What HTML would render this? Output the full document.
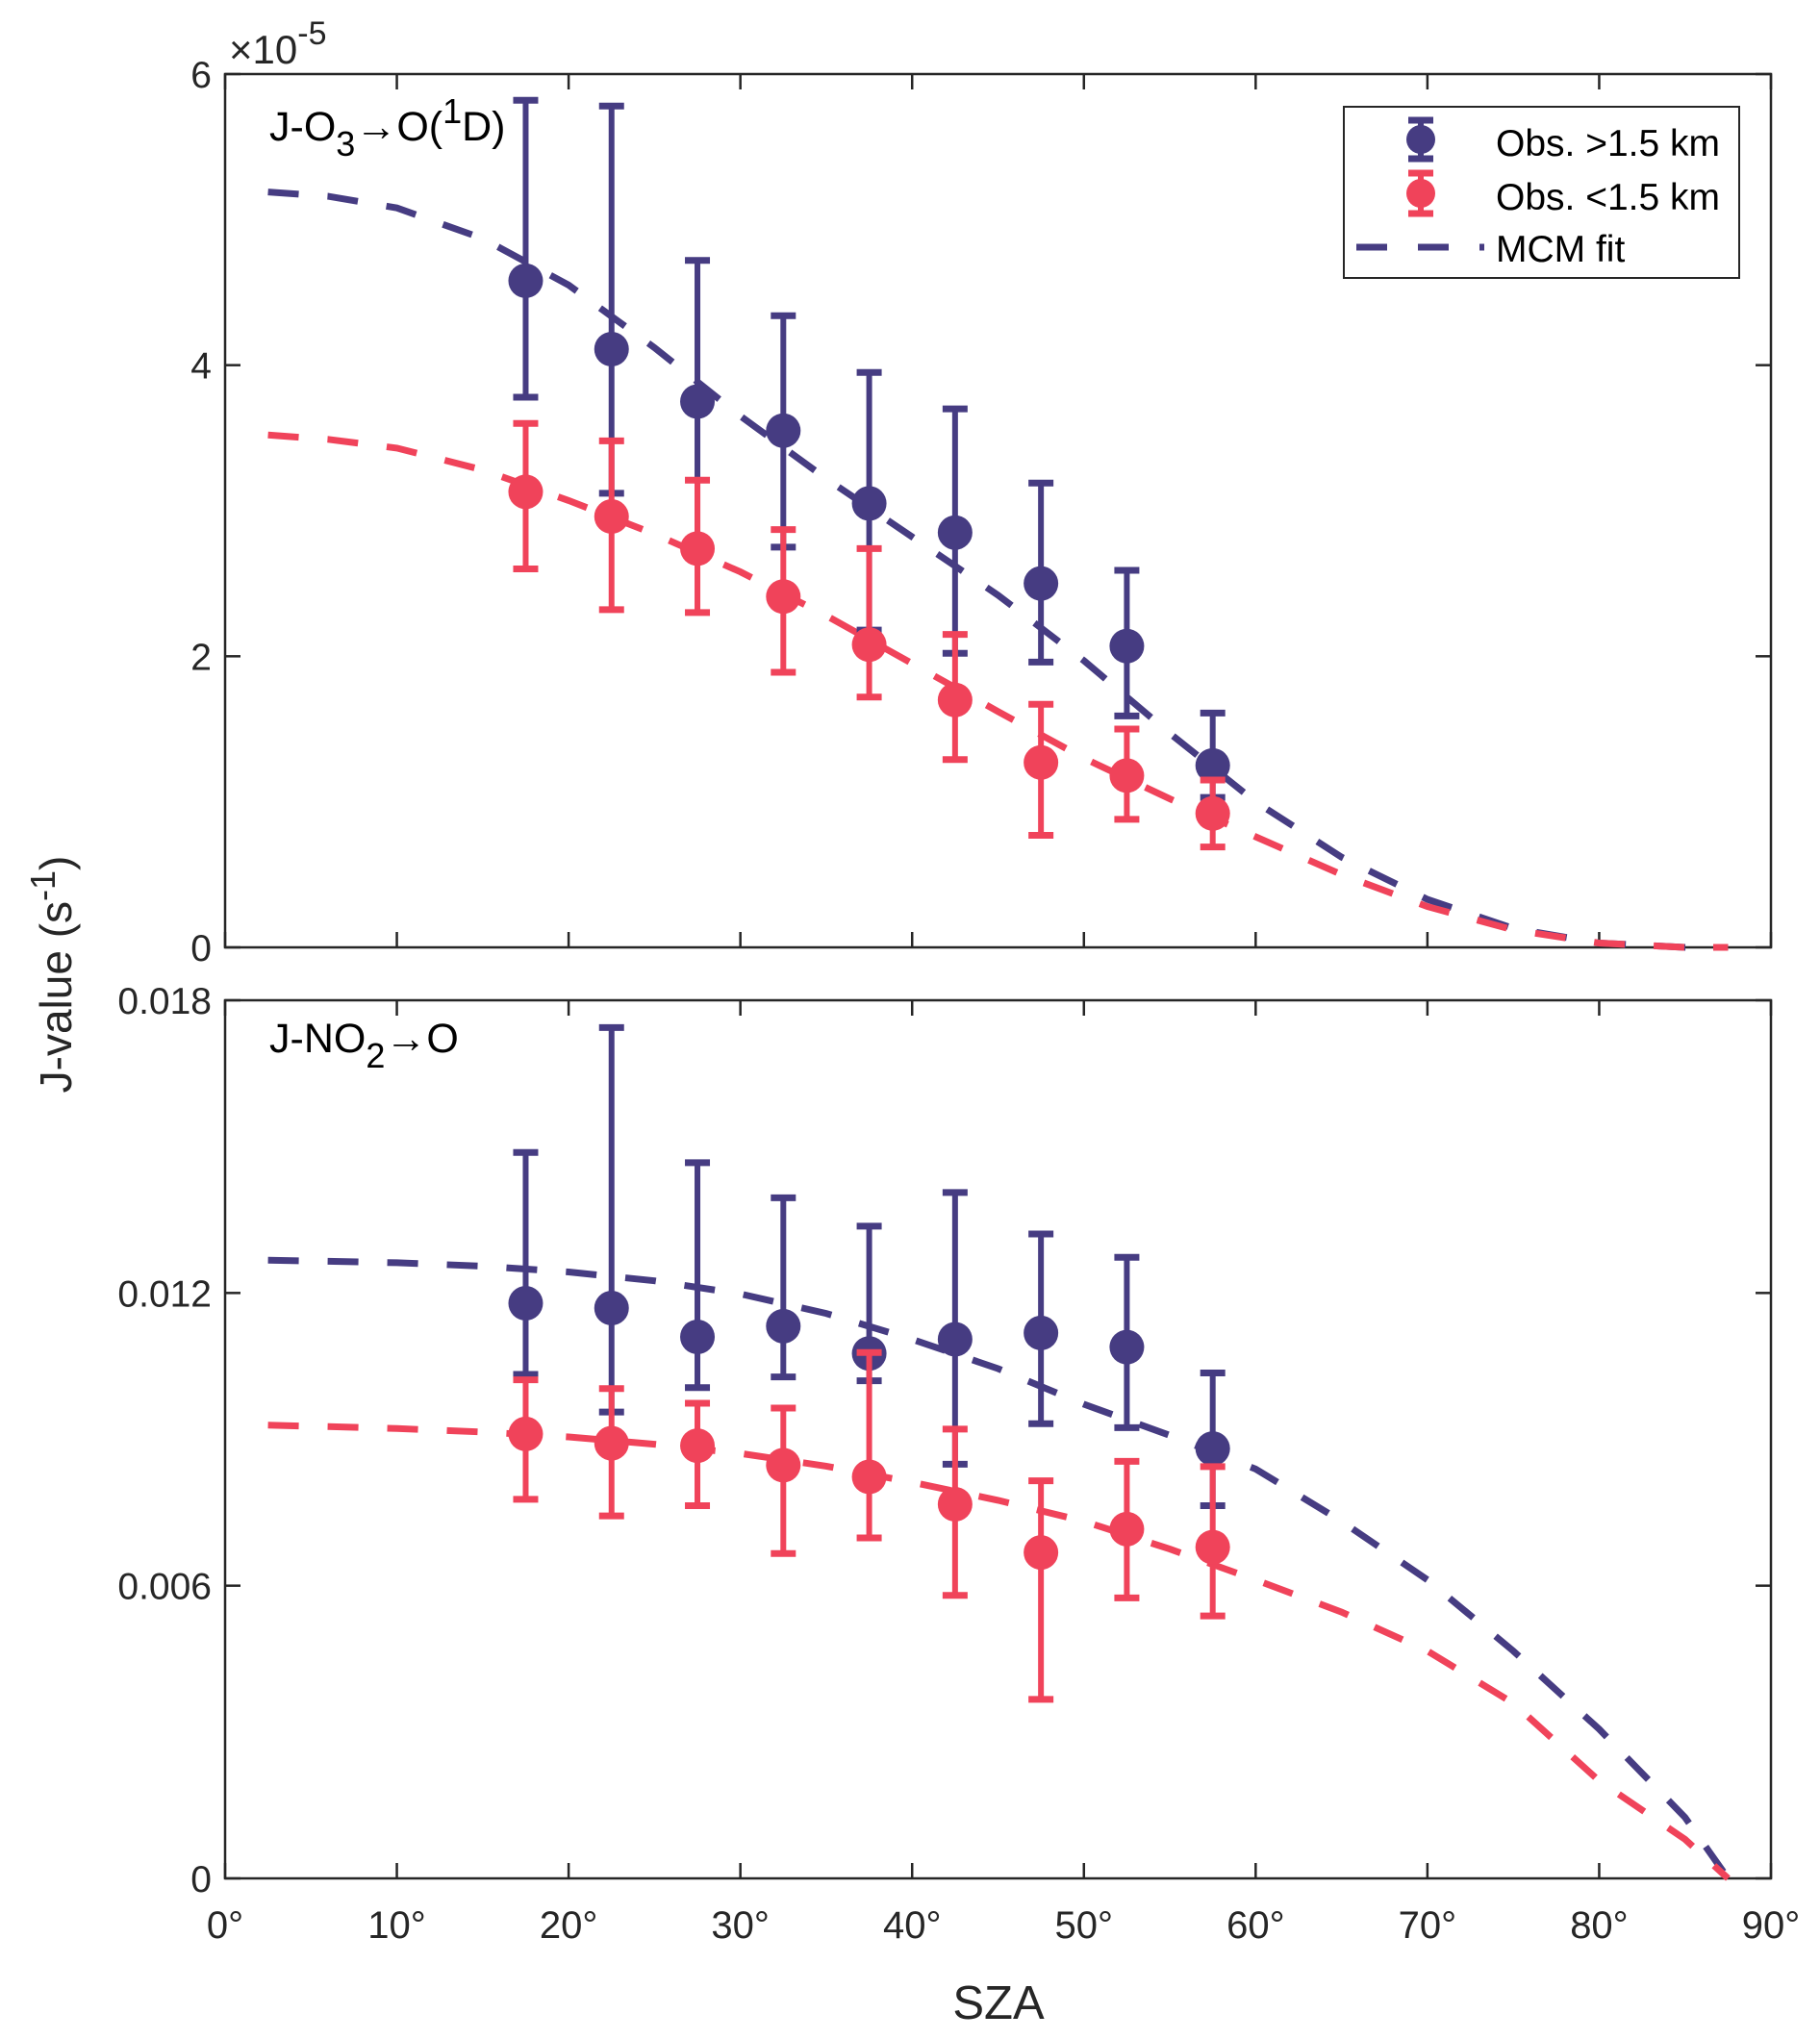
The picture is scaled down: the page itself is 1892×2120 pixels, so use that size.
<!DOCTYPE html>
<html><head><meta charset="utf-8"><style>
html,body{margin:0;padding:0;background:#fff;}
svg{display:block;font-family:"Liberation Sans",Arial,sans-serif;}
</style></head><body>
<svg id="chart" width="1892" height="2120" viewBox="0 0 1892 2120" xmlns="http://www.w3.org/2000/svg">
<g id="g-top"></g>
<g id="g-bot"></g>
<text x="238" y="66" font-size="42" fill="#262626">×10<tspan font-size="34" dy="-20">-5</tspan></text>
<text x="280" y="146" font-size="43" fill="#000">J-O<tspan font-size="36" dy="16">3</tspan><tspan dy="-16">→O(</tspan><tspan font-size="36" dy="-18">1</tspan><tspan dy="18">D)</tspan></text>
<text x="280" y="1094" font-size="43" fill="#000">J-NO<tspan font-size="36" dy="16">2</tspan><tspan dy="-16">→O</tspan></text>
<text transform="translate(74,1013) rotate(-90)" text-anchor="middle" font-size="46" fill="#262626">J-value (s<tspan font-size="36" dy="-17">-1</tspan><tspan dy="17">)</tspan></text>
<text x="1038" y="2099" text-anchor="middle" font-size="49" fill="#262626">SZA</text>
<g>
<rect x="1397" y="111" width="411" height="178" fill="#fff" stroke="#262626" stroke-width="2"/>
<g>
<line x1="1477" y1="125" x2="1477" y2="165" stroke="#463c82" stroke-width="6"/>
<line x1="1464" y1="125" x2="1490" y2="125" stroke="#463c82" stroke-width="7"/>
<line x1="1464" y1="165" x2="1490" y2="165" stroke="#463c82" stroke-width="7"/>
<circle cx="1477" cy="145" r="15" fill="#463c82"/>
<text x="1555" y="162" font-size="39" fill="#000">Obs. &gt;1.5 km</text></g>
<g>
<line x1="1477" y1="180" x2="1477" y2="222" stroke="#f0435a" stroke-width="6"/>
<line x1="1464" y1="180" x2="1490" y2="180" stroke="#f0435a" stroke-width="7"/>
<line x1="1464" y1="222" x2="1490" y2="222" stroke="#f0435a" stroke-width="7"/>
<circle cx="1477" cy="201" r="15" fill="#f0435a"/>
<text x="1555" y="218" font-size="39" fill="#000">Obs. &lt;1.5 km</text></g>
<g>
<line x1="1410" y1="257" x2="1543" y2="257" stroke="#463c82" stroke-width="7" stroke-dasharray="32 32"/>
<text x="1555" y="272" font-size="39" fill="#000">MCM fit</text></g>
</g>
</svg>
<script>
const sza = [17.5,22.5,27.5,32.5,37.5,42.5,47.5,52.5,57.5];
const o3High = [4.58,4.11,3.75,3.55,3.05,2.85,2.50,2.07,1.25];
const o3HighUp = [5.82,5.78,4.72,4.34,3.95,3.70,3.19,2.59,1.61];
const o3HighLo = [3.78,3.12,2.78,2.75,2.18,2.02,1.96,1.59,1.03];
const o3Low = [3.13,2.96,2.74,2.41,2.08,1.70,1.27,1.18,0.92];
const o3LowUp = [3.60,3.48,3.21,2.87,2.74,2.15,1.67,1.50,1.15];
const o3LowLo = [2.60,2.32,2.30,1.89,1.72,1.29,0.77,0.88,0.69];
const fitSza = [2.5,6,10,15,20,25,30,35,40,45,50,55,60,65,70,75,80,85,87.5];
const o3FitHigh = [5.19,5.16,5.08,4.87,4.55,4.12,3.65,3.22,2.82,2.42,1.97,1.47,1.0,0.62,0.33,0.13,0.03,0,0];
const o3FitLow = [3.52,3.49,3.43,3.28,3.07,2.84,2.58,2.28,1.95,1.62,1.30,1.02,0.76,0.50,0.28,0.12,0.03,0,0];
const no2High = [11.79,11.69,11.10,11.32,10.76,11.05,11.18,10.89,8.81];
const no2HighUp = [14.88,17.44,14.67,13.95,13.37,14.06,13.21,12.73,10.36];
const no2HighLo = [10.33,9.56,10.06,10.28,10.2,8.49,9.32,9.24,7.64];
const no2Low = [9.11,8.92,8.87,8.47,8.23,7.67,6.68,7.16,6.79];
const no2LowUp = [10.22,10.04,9.74,9.64,10.78,9.21,8.15,8.55,8.44];
const no2LowLo = [7.77,7.43,7.64,6.66,6.98,5.80,3.67,5.75,5.38];
const no2FitHigh = [12.67,12.65,12.62,12.55,12.43,12.25,11.98,11.58,11.05,10.45,9.72,9.08,8.39,7.32,6.12,4.66,3.06,1.25,0];
const no2FitLow = [9.29,9.26,9.22,9.15,9.05,8.90,8.71,8.45,8.12,7.75,7.32,6.75,6.12,5.46,4.66,3.59,2.0,0.8,0];
const xTicks = [0,10,20,30,40,50,60,70,80,90];
const o3Ticks = [0,2,4,6];
const o3TickLabels = ['0','2','4','6'];
const no2Ticks = [0,6,12,18];
const no2TickLabels = ['0','0.006','0.012','0.018'];

const NS='http://www.w3.org/2000/svg';
const L=234,R=1841;
const BLUE='#463c82',RED='#f0435a';
function xs(v){return L+(v/90)*(R-L);}
function mk(tag,parent,attrs){const e=document.createElementNS(NS,tag);for(const k in attrs)e.setAttribute(k,attrs[k]);parent.appendChild(e);return e;}

function panel(g,top,bot,ymax,yt,ytl,showX,fits,obs){
  const ys=v=>bot-(v/ymax)*(bot-top);
  const frame=mk('rect',g,{x:L,y:top,width:R-L,height:bot-top,fill:'none',stroke:'#262626','stroke-width':2.5});
  
  
  xTicks.forEach(t=>{
    const x=xs(t);
    const a=mk('line',g,{x1:x,y1:bot,x2:x,y2:bot-16,stroke:'#262626','stroke-width':2.5});
    
    
    mk('line',g,{x1:x,y1:top,x2:x,y2:top+16,stroke:'#262626','stroke-width':2.5});
    if(showX){
      const tx=mk('text',g,{x:x,y:bot+62,'text-anchor':'middle','font-size':40,fill:'#262626'});
      tx.textContent=t+'°';
      
      
    }
  });
  yt.forEach((t,i)=>{
    const y=ys(t);
    const a=mk('line',g,{x1:L,y1:y,x2:L+16,y2:y,stroke:'#262626','stroke-width':2.5});
    
    
    mk('line',g,{x1:R,y1:y,x2:R-16,y2:y,stroke:'#262626','stroke-width':2.5});
    const tx=mk('text',g,{x:L-14,y:y+14,'text-anchor':'end','font-size':39,fill:'#262626'});
    tx.textContent=ytl[i];
    
    
  });
  fits.forEach(f=>{
    const d=fitSza.map((s,i)=>(i?'L':'M')+xs(s).toFixed(1)+','+ys(f.v[i]).toFixed(1)).join(' ');
    const p=mk('path',g,{d:d,fill:'none',stroke:f.c,'stroke-width':7,'stroke-dasharray':'32 30'});
    
    
  });
  obs.forEach(o=>{
    sza.forEach((s,i)=>{
      const x=xs(s);
      const eg=mk('g',g,{});
      
      
      mk('line',eg,{x1:x,y1:ys(o.up[i]),x2:x,y2:ys(o.lo[i]),stroke:o.c,'stroke-width':6});
      mk('line',eg,{x1:x-13,y1:ys(o.up[i]),x2:x+13,y2:ys(o.up[i]),stroke:o.c,'stroke-width':7});
      mk('line',eg,{x1:x-13,y1:ys(o.lo[i]),x2:x+13,y2:ys(o.lo[i]),stroke:o.c,'stroke-width':7});
      mk('circle',eg,{cx:x,cy:ys(o.v[i]),r:18,fill:o.c});
    });
  });
}
panel(document.getElementById('g-top'),77,985,6,o3Ticks,o3TickLabels,false,
  [{v:o3FitHigh,c:BLUE,n:'o3-fit-high'},{v:o3FitLow,c:RED,n:'o3-fit-low'}],
  [{v:o3High,up:o3HighUp,lo:o3HighLo,c:BLUE,n:'o3-high'},{v:o3Low,up:o3LowUp,lo:o3LowLo,c:RED,n:'o3-low'}]);
panel(document.getElementById('g-bot'),1040,1953,18,no2Ticks,no2TickLabels,true,
  [{v:no2FitHigh,c:BLUE,n:'no2-fit-high'},{v:no2FitLow,c:RED,n:'no2-fit-low'}],
  [{v:no2High,up:no2HighUp,lo:no2HighLo,c:BLUE,n:'no2-high'},{v:no2Low,up:no2LowUp,lo:no2LowLo,c:RED,n:'no2-low'}]);
</script>
</body></html>
